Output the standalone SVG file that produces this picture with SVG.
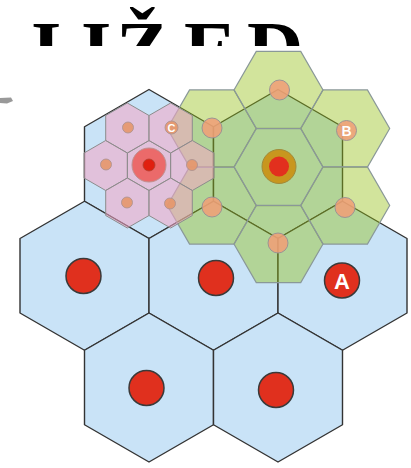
<svg xmlns="http://www.w3.org/2000/svg" xmlns:xlink="http://www.w3.org/1999/xlink" width="411" height="468" viewBox="0 0 411 468">
<style>
.blue{fill:#c9e3f7;stroke:#333;stroke-width:1.4;stroke-linejoin:round}
.green{fill:#94be13;fill-opacity:0.42;stroke:#8a9898;stroke-width:1.2}
.pink{fill:#f4a6c4;fill-opacity:0.55;stroke:#8c8c8c;stroke-width:1}
.rdot{fill:#e0301e;stroke:#3a3a3a;stroke-width:1.5}
.odot{fill:#ef9f78;fill-opacity:0.88;stroke:#9c9494;stroke-width:1}
.pdot{fill:#e6976a;fill-opacity:0.9;stroke:#a89090;stroke-width:0.8}
.lbl{font-family:"Liberation Sans",Arial,sans-serif;font-weight:bold;fill:#fff;text-anchor:middle}
.title{font-family:"Liberation Serif","Times New Roman",serif;font-weight:bold;font-size:78px;fill:#000}
</style>
<defs>
<polygon id="bh" points="0,-74.5 64.5,-37.25 64.5,37.25 0,74.5 -64.5,37.25 -64.5,-37.25"/>
<polygon id="gh" points="44.5,0 22.25,38.54 -22.25,38.54 -44.5,0 -22.25,-38.54 22.25,-38.54"/>
<polygon id="ph" points="0,-25 21.65,-12.5 21.65,12.5 0,25 -21.65,12.5 -21.65,-12.5"/>
<clipPath id="tc"><rect x="0" y="0" width="411" height="46"/></clipPath>
</defs>
<g id="title" clip-path="url(#tc)">
<text class="title" x="31 81 116 184 247" y="75">IIŽED</text>
</g>
<path id="smudge" d="M0,98 L11,97.5 L13,101 L7,103.5 L0,103 Z" fill="#555" opacity="0.6"/>
<g id="blue-cells">
<g id="cell-t1"><use xlink:href="#bh" class="blue" x="149" y="164"/></g>
<g id="cell-t2"><use xlink:href="#bh" class="blue" x="278" y="164"/></g>
<g id="cell-m1"><use xlink:href="#bh" class="blue" x="84.5" y="275.75"/><circle class="rdot" cx="83.5" cy="276" r="17.5"/></g>
<g id="cell-m2"><use xlink:href="#bh" class="blue" x="213.5" y="275.75"/><circle class="rdot" cx="216" cy="278" r="17.5"/></g>
<g id="cell-m3"><use xlink:href="#bh" class="blue" x="342.5" y="275.75"/><circle class="rdot" cx="342" cy="280.5" r="17.5"/><text class="lbl" x="342" y="288.5" font-size="22">A</text></g>
<g id="cell-b1"><use xlink:href="#bh" class="blue" x="149" y="387.5"/><circle class="rdot" cx="146.5" cy="388" r="17.5"/></g>
<g id="cell-b2"><use xlink:href="#bh" class="blue" x="278" y="387.5"/><circle class="rdot" cx="276" cy="390" r="17.5"/></g>
</g>
<g id="green-cluster">
<use xlink:href="#gh" class="green" x="278.5" y="167"/>
<use xlink:href="#gh" class="green" x="278.5" y="90"/>
<use xlink:href="#gh" class="green" x="345.2" y="128.5"/>
<use xlink:href="#gh" class="green" x="345.2" y="205.5"/>
<use xlink:href="#gh" class="green" x="278.5" y="244"/>
<use xlink:href="#gh" class="green" x="211.8" y="205.5"/>
<use xlink:href="#gh" class="green" x="211.8" y="128.5"/>
</g>
<g id="pink-cluster">
<use xlink:href="#ph" class="pink" x="149" y="165.5"/>
<use xlink:href="#ph" class="pink" x="127.35" y="128"/>
<use xlink:href="#ph" class="pink" x="170.65" y="128"/>
<use xlink:href="#ph" class="pink" x="105.7" y="165.5"/>
<use xlink:href="#ph" class="pink" x="192.3" y="165.5"/>
<use xlink:href="#ph" class="pink" x="127.35" y="203"/>
<use xlink:href="#ph" class="pink" x="170.65" y="203"/>
</g>
<g id="green-dots">
<circle class="odot" cx="279.5" cy="90" r="10"/>
<circle class="odot" cx="346.5" cy="130.5" r="10"/>
<text class="lbl" x="346.5" y="135.5" font-size="14">B</text>
<circle class="odot" cx="345" cy="207.5" r="10"/>
<circle class="odot" cx="278" cy="243" r="10"/>
<circle class="odot" cx="212" cy="207" r="10"/>
<circle class="odot" cx="212" cy="128" r="10"/>
<circle cx="279" cy="166.5" r="17" fill="#c8961e" stroke="#a08a3a" stroke-width="1"/>
<circle cx="279" cy="166.5" r="10" fill="#e2301e"/>
</g>
<g id="pink-dots">
<circle class="pdot" cx="128" cy="127.5" r="5.5"/>
<circle class="pdot" cx="171.5" cy="127.5" r="6.5"/>
<text class="lbl" x="171.5" y="131.5" font-size="11">C</text>
<circle class="pdot" cx="106" cy="164.5" r="5.5"/>
<circle class="pdot" cx="192" cy="165" r="5.5"/>
<circle class="pdot" cx="127" cy="202.5" r="5.5"/>
<circle class="pdot" cx="170" cy="203.5" r="5.5"/>
<circle cx="149" cy="165" r="17" fill="#ec5a56" fill-opacity="0.85" stroke="#c09090" stroke-width="1"/>
<circle cx="149" cy="165" r="6" fill="#e0200f" stroke="#b04030" stroke-width="0.8"/>
</g>
</svg>
